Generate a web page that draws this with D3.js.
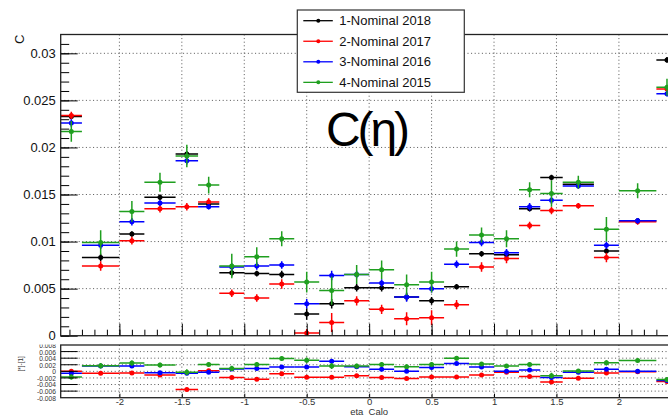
<!DOCTYPE html>
<html>
<head>
<meta charset="utf-8">
<script src="https://cdn.jsdelivr.net/npm/d3@7"></script>
<style>
  body { margin: 0; background: #fff; }
  svg { font-family: 'Liberation Sans', Arial, Helvetica, sans-serif; }
</style>
</head>
<body>
<svg width="668" height="415"></svg>
<script>
// eta bins
const etaEdges = [-2.47, -2.3, -2.0, -1.8, -1.55, -1.37, -1.2, -1.0, -0.8, -0.6, -0.4, -0.2, 0,
  0.2, 0.4, 0.6, 0.8, 1.0, 1.2, 1.37, 1.55, 1.8, 2.0, 2.3, 2.47];

const seriesNames = ['1-Nominal 2018', '2-Nominal 2017', '3-Nominal 2016', '4-Nominal 2015'];
const seriesColors = ['#000000', '#ff0000', '#0000ff', '#1f9f1f'];

// C values per bin
const c2018 = [0.0233, 0.0083, 0.0108, 0.0147, 0.0193, 0.0140, 0.0067, 0.0066, 0.0065, 0.0023, 0.0034, 0.0051,
  0.0051, 0.0041, 0.0037, 0.0052, 0.0087, 0.0086, 0.0135, 0.0168, 0.0161, 0.0090, 0.0122, 0.0293];
const c2017 = [0.0234, 0.0074, 0.0101, 0.0135, 0.0137, 0.0142, 0.0045, 0.0040, 0.0055, 0.0003, 0.0014, 0.0037,
  0.0028, 0.0018, 0.0019, 0.0033, 0.0073, 0.0082, 0.0117, 0.0133, 0.0138, 0.0083, 0.0121, 0.0262];
const c2016 = [0.0226, 0.0096, 0.0121, 0.0141, 0.0186, 0.0137, 0.0073, 0.0074, 0.0075, 0.0034, 0.0064, 0.0065,
  0.0056, 0.0041, 0.0050, 0.0076, 0.0099, 0.0088, 0.0137, 0.0144, 0.0159, 0.0096, 0.0122, 0.0257];
const c2015 = [0.0217, 0.0099, 0.0132, 0.0163, 0.0191, 0.0160, 0.0074, 0.0084, 0.0103, 0.0057, 0.0048, 0.0065,
  0.0070, 0.0054, 0.0057, 0.0092, 0.0107, 0.0103, 0.0155, 0.0151, 0.0163, 0.0113, 0.0154, 0.0264];

// vertical errors
const e2018 = [0.0003, 0.0004, 0.0003, 0.0003, 0.0003, 0.0003, 0.0004, 0.0003, 0.0004, 0.0006, 0.0005, 0.0004,
  0.0004, 0.0004, 0.0004, 0.0003, 0.0003, 0.0003, 0.0003, 0.0003, 0.0003, 0.0003, 0.0003, 0.0003];
const e2017 = [0.0004, 0.0005, 0.0004, 0.0004, 0.0004, 0.0004, 0.0004, 0.0004, 0.0005, 0.0004, 0.0010, 0.0005,
  0.0005, 0.0007, 0.0008, 0.0005, 0.0005, 0.0005, 0.0004, 0.0004, 0.0003, 0.0005, 0.0003, 0.0004];
const e2016 = [0.0004, 0.0004, 0.0004, 0.0003, 0.0004, 0.0003, 0.0004, 0.0004, 0.0004, 0.0005, 0.0005, 0.0004,
  0.0004, 0.0005, 0.0004, 0.0004, 0.0004, 0.0004, 0.0004, 0.0004, 0.0003, 0.0004, 0.0003, 0.0003];
const e2015 = [0.0011, 0.0013, 0.0011, 0.0010, 0.0012, 0.0009, 0.0013, 0.0010, 0.0008, 0.0011, 0.0015, 0.0010,
  0.0010, 0.0011, 0.0011, 0.0008, 0.0008, 0.0009, 0.0008, 0.0014, 0.0007, 0.0013, 0.0008, 0.0009];

// differences to 2018 ([*]-[1])
const d2017 = [0.0000, -0.0006, -0.0005, -0.0011, -0.0055, 0.0002, -0.0019, -0.0024, -0.0007, -0.0018, -0.0018, -0.0013,
  -0.0019, -0.0022, -0.0017, -0.0017, -0.0011, -0.0003, -0.0016, -0.0032, -0.0021, -0.0005, -0.0001, -0.0031];
const d2016 = [-0.0006, 0.0016, 0.0016, -0.0004, -0.0006, -0.0003, 0.0007, 0.0009, 0.0013, 0.0013, 0.0031, 0.0014,
  0.0006, 0.0000, 0.0012, 0.0024, 0.0013, 0.0000, 0.0004, -0.0019, -0.0003, 0.0006, 0.0000, -0.0028];
const d2015 = [-0.0017, 0.0017, 0.0025, 0.0019, -0.0003, 0.0021, 0.0009, 0.0021, 0.0039, 0.0034, 0.0016, 0.0016,
  0.0021, 0.0014, 0.0021, 0.0040, 0.0022, 0.0016, 0.0021, -0.0013, 0.0001, 0.0026, 0.0033, -0.0025];
const de2017 = [0.0003, 0.0003, 0.0003, 0.0003, 0.0004, 0.0003, 0.0003, 0.0003, 0.0003, 0.0003, 0.0004, 0.0003,
  0.0003, 0.0003, 0.0003, 0.0003, 0.0003, 0.0003, 0.0003, 0.0003, 0.0003, 0.0003, 0.0003, 0.0003];
const de2016 = [0.0003, 0.0003, 0.0003, 0.0003, 0.0003, 0.0003, 0.0003, 0.0003, 0.0003, 0.0003, 0.0003, 0.0003,
  0.0003, 0.0003, 0.0003, 0.0003, 0.0003, 0.0003, 0.0003, 0.0003, 0.0003, 0.0003, 0.0003, 0.0003];
const de2015 = [0.0008, 0.0008, 0.0008, 0.0007, 0.0009, 0.0006, 0.0008, 0.0007, 0.0006, 0.0008, 0.0009, 0.0007,
  0.0007, 0.0007, 0.0007, 0.0006, 0.0006, 0.0006, 0.0006, 0.0009, 0.0005, 0.0008, 0.0006, 0.0006];

// ticks
const xTicks = [-2, -1.5, -1, -0.5, 0, 0.5, 1, 1.5, 2];
const xTickLabels = ['-2', '-1.5', '-1', '-0.5', '0', '0.5', '1', '1.5', '2'];
const yTicksMain = [0, 0.005, 0.01, 0.015, 0.02, 0.025, 0.03];
const yTickLabelsMain = ['0', '0.005', '0.01', '0.015', '0.02', '0.025', '0.03'];
const yTicksRatio = [-0.008, -0.006, -0.004, -0.002, 0, 0.002, 0.004, 0.006, 0.008];
const yTickLabelsRatio = ['-0.008', '-0.006', '-0.004', '-0.002', '0', '0.002', '0.004', '0.006', '0.008'];

const svg = d3.select('svg');

const frameLeft = 60.7;
const frameRight = 677.6;
const mainTop = 34.5, mainBottom = 335.7;
const ratioTop = 345, ratioBottom = 397.7;

const x = d3.scaleLinear().domain([-2.47, 2.47]).range([frameLeft, frameRight]);
const yMain = d3.scaleLinear().domain([0, 0.032]).range([mainBottom, mainTop]);
const yRatio = d3.scaleLinear().domain([-0.008, 0.008]).range([ratioBottom, ratioTop]);

const defs = svg.append('defs');
defs.append('clipPath').attr('id', 'clipMain').append('rect')
  .attr('x', frameLeft).attr('y', mainTop).attr('width', 700).attr('height', mainBottom - mainTop);
defs.append('clipPath').attr('id', 'clipRatio').append('rect')
  .attr('x', frameLeft).attr('y', ratioTop).attr('width', 700).attr('height', ratioBottom - ratioTop);
defs.append('clipPath').attr('id', 'clipRatioLabels').append('rect')
  .attr('x', 0).attr('y', ratioTop - 0.5).attr('width', frameLeft).attr('height', 80);

const gridColor = '#555';

function grid(yScale, yVals, top, bottom) {
  const g = svg.append('g')
    .attr('stroke', gridColor).attr('stroke-width', 1).attr('stroke-dasharray', '1,2.6');
  g.selectAll('.vg').data(xTicks).join('line')
    .attr('x1', d => x(d)).attr('x2', d => x(d))
    .attr('y1', top).attr('y2', bottom);
  g.selectAll('.hg').data(yVals).join('line')
    .attr('x1', frameLeft).attr('x2', 668)
    .attr('y1', d => yScale(d)).attr('y2', d => yScale(d));
}

grid(yMain, yTicksMain.filter(d => d > 0), mainTop, mainBottom);
grid(yRatio, yTicksRatio.filter(d => d > -0.008 && d < 0.008), ratioTop, ratioBottom);

function drawSeries(clipId, yScale, values, errors, color) {
  const bins = values.map((v, i) => ({ v, e: errors[i], lo: etaEdges[i], hi: etaEdges[i + 1] }));
  const g = svg.append('g').attr('clip-path', `url(#${clipId})`)
    .attr('stroke', color).attr('stroke-width', 1.5);
  g.selectAll('.h').data(bins).join('line')
    .attr('x1', d => x(d.lo)).attr('x2', d => x(d.hi))
    .attr('y1', d => yScale(d.v)).attr('y2', d => yScale(d.v));
  g.selectAll('.v').data(bins).join('line')
    .attr('x1', d => x((d.lo + d.hi) / 2)).attr('x2', d => x((d.lo + d.hi) / 2))
    .attr('y1', d => yScale(d.v - d.e)).attr('y2', d => yScale(d.v + d.e));
  g.selectAll('circle').data(bins).join('circle')
    .attr('cx', d => x((d.lo + d.hi) / 2)).attr('cy', d => yScale(d.v))
    .attr('r', 2.5).attr('fill', color).attr('stroke', 'none');
}

const mainValues = [c2018, c2017, c2016, c2015];
const mainErrors = [e2018, e2017, e2016, e2015];
mainValues.forEach((vals, i) => drawSeries('clipMain', yMain, vals, mainErrors[i], seriesColors[i]));

const ratioValues = [d2017, d2016, d2015];
const ratioErrors = [de2017, de2016, de2015];
ratioValues.forEach((vals, i) => drawSeries('clipRatio', yRatio, vals, ratioErrors[i], seriesColors[i + 1]));

// axes: main y
const yMainAxis = d3.axisLeft(yMain).tickValues(yTicksMain)
  .tickFormat((d, i) => yTickLabelsMain[i]).tickSize(-17).tickPadding(5);
const yMainAxisG = svg.append('g').attr('transform', `translate(${frameLeft},0)`).call(yMainAxis);
yMainAxisG.select('.domain').remove();
yMainAxisG.selectAll('text').attr('font-size', 13).attr('fill', '#111').attr('font-family', null);

const yMainMinor = d3.axisLeft(yMain).tickValues(d3.range(0, 0.0315, 0.001)).tickFormat('').tickSize(-8.5);
const yMainMinorG = svg.append('g').attr('transform', `translate(${frameLeft},0)`).call(yMainMinor);
yMainMinorG.select('.domain').remove();

// main x ticks (inside, no labels)
const xMainAxis = d3.axisBottom(x).tickValues(xTicks).tickFormat('').tickSize(-12);
const xMainAxisG = svg.append('g').attr('transform', `translate(0,${mainBottom})`).call(xMainAxis);
xMainAxisG.select('.domain').remove();
const xMainMinor = d3.axisBottom(x).tickValues(d3.range(-24, 25).map(d => d / 10)).tickFormat('').tickSize(-6);
const xMainMinorG = svg.append('g').attr('transform', `translate(0,${mainBottom})`).call(xMainMinor);
xMainMinorG.select('.domain').remove();

// ratio y labels (top one is cut by the upper pad)
const yRatioAxis = d3.axisLeft(yRatio).tickValues(yTicksRatio)
  .tickFormat((d, i) => yTickLabelsRatio[i]).tickSize(0).tickPadding(4.7);
const yRatioClip = svg.append('g').attr('clip-path', 'url(#clipRatioLabels)');
const yRatioAxisG = yRatioClip.append('g').attr('transform', `translate(${frameLeft},0)`).call(yRatioAxis);
yRatioAxisG.select('.domain').remove();
yRatioAxisG.selectAll('text').attr('font-size', 6.7).attr('fill', '#333').attr('font-family', null)
  .attr('dy', '0.36em');
// ticks inside ratio frame
svg.append('g').attr('stroke', '#000').selectAll('line')
  .data(yTicksRatio.filter(d => d > -0.008 && d < 0.008)).join('line')
  .attr('x1', frameLeft).attr('x2', frameLeft + 17)
  .attr('y1', d => yRatio(d)).attr('y2', d => yRatio(d));

// ratio x
const xRatioAxis = d3.axisBottom(x).tickValues(xTicks)
  .tickFormat((d, i) => xTickLabels[i]).tickSize(-4).tickPadding(0);
const xRatioAxisG = svg.append('g').attr('transform', `translate(0,${ratioBottom})`).call(xRatioAxis);
xRatioAxisG.select('.domain').remove();
xRatioAxisG.selectAll('text').attr('font-size', 9.5).attr('fill', '#333').attr('font-family', null)
  .attr('y', 4).attr('dy', '0.33em');

// frames
[[mainTop, mainBottom], [ratioTop, ratioBottom]].forEach(([t, b]) => {
  svg.append('rect')
    .attr('x', frameLeft).attr('y', t)
    .attr('width', frameRight - frameLeft).attr('height', b - t)
    .attr('fill', 'none').attr('stroke', '#222').attr('stroke-width', 1.3);
});

// axis titles
svg.append('text')
  .attr('transform', `translate(24,${mainTop}) rotate(-90)`)
  .attr('text-anchor', 'end').attr('font-size', 13).attr('fill', '#111')
  .text('C');

svg.append('text')
  .attr('transform', `translate(22.5,${(ratioTop + ratioBottom) / 2 - 7.5}) rotate(-90)`)
  .attr('text-anchor', 'middle').attr('font-size', 6.3).attr('fill', '#333')
  .text('[*]-[1]');

svg.append('text')
  .attr('x', x(0)).attr('y', 414.5)
  .attr('text-anchor', 'middle').attr('font-size', 9.5).attr('fill', '#333')
  .text('eta_Calo');

// big label
svg.append('text')
  .attr('x', 326).attr('y', 145.5)
  .attr('font-size', 48).attr('fill', '#000')
  .attr('textLength', 84).attr('lengthAdjust', 'spacing')
  .text('C(η)');

// legend
const legend = svg.append('g').attr('transform', 'translate(297.3,10)');
legend.append('rect')
  .attr('width', 167).attr('height', 82.3)
  .attr('fill', '#fff').attr('stroke', '#333').attr('stroke-width', 1.2);
const entries = legend.selectAll('.entry').data(seriesNames).join('g')
  .attr('transform', (d, i) => `translate(0,${10.7 + i * 20.55})`);
entries.append('line')
  .attr('x1', 6).attr('x2', 35.5).attr('y1', 0).attr('y2', 0)
  .attr('stroke', (d, i) => seriesColors[i]).attr('stroke-width', 1.3);
entries.append('circle')
  .attr('cx', 21).attr('cy', 0).attr('r', 2)
  .attr('fill', (d, i) => seriesColors[i]);
entries.append('text')
  .attr('x', 42).attr('y', 0).attr('dy', '0.36em')
  .attr('font-size', 13).attr('fill', '#111')
  .text(d => d);
</script>
</body>
</html>
